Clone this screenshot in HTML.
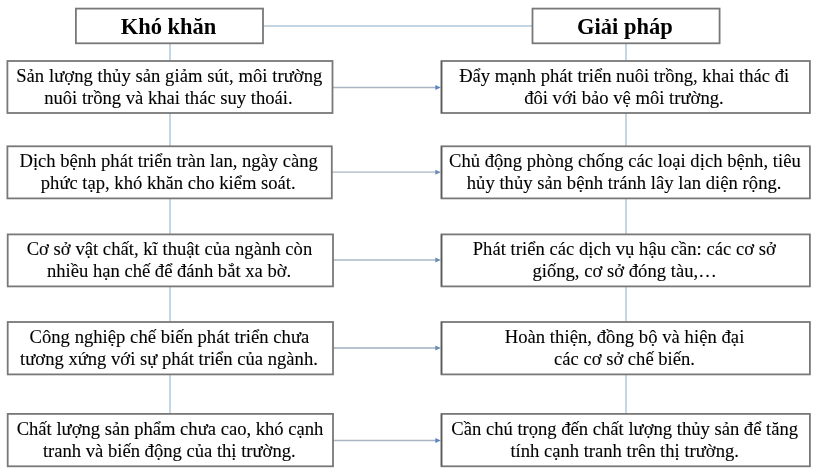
<!DOCTYPE html>
<html><head><meta charset="utf-8"><style>
html,body{margin:0;padding:0;background:#fff;width:818px;height:474px;overflow:hidden;}
svg{position:absolute;left:0;top:0;}
.tx{position:absolute;left:0;top:0;width:818px;height:474px;filter:grayscale(1) blur(0.25px);}
.t{position:absolute;text-align:center;white-space:nowrap;font-family:"Liberation Serif",serif;line-height:24px;color:#000;-webkit-text-stroke:0.1px #000;}
</style></head><body>
<svg width="818" height="474" viewBox="0 0 818 474">
<line x1="263" y1="26" x2="532.5" y2="26" stroke="#c4d5e4" stroke-width="2"/>
<line x1="170.0" y1="43" x2="170.0" y2="414" stroke="#c4d5e4" stroke-width="2"/>
<line x1="626.0" y1="43" x2="626.0" y2="414" stroke="#c4d5e4" stroke-width="2"/>
<line x1="332" y1="87.5" x2="436" y2="87.5" stroke="#aab5c4" stroke-width="1.4"/>
<path d="M435.3 85.0 L440.8 87.5 L435.3 90.0 Z" fill="#5f84c2"/>
<line x1="332" y1="172.2" x2="436" y2="172.2" stroke="#c2cad4" stroke-width="1.8"/>
<path d="M435.3 169.7 L440.8 172.2 L435.3 174.7 Z" fill="#6a8db5"/>
<line x1="332" y1="260" x2="436" y2="260" stroke="#bccad6" stroke-width="1.8"/>
<path d="M435.3 257.5 L440.8 260.0 L435.3 262.5 Z" fill="#6a8db5"/>
<line x1="332" y1="348" x2="436" y2="348" stroke="#b5c4d0" stroke-width="1.8"/>
<path d="M435.3 345.5 L440.8 348.0 L435.3 350.5 Z" fill="#6a8db5"/>
<line x1="332" y1="440.5" x2="436" y2="440.5" stroke="#aab5c4" stroke-width="1.4"/>
<path d="M435.3 438.0 L440.8 440.5 L435.3 443.0 Z" fill="#5f84c2"/>
<rect x="75.9" y="8.6" width="187.10" height="34.70" fill="#fff" stroke="#787878" stroke-width="1.8"/>
<rect x="532.5" y="8.6" width="187.10" height="34.70" fill="#fff" stroke="#787878" stroke-width="1.8"/>
<rect x="7.4" y="61.0" width="325.10" height="52.00" fill="#fff" stroke="#787878" stroke-width="1.8"/>
<rect x="441.5" y="61.0" width="368.40" height="52.00" fill="#fff" stroke="#787878" stroke-width="1.8"/>
<line x1="441.5" y1="61.0" x2="441.5" y2="113.0" stroke="#5c5c5c" stroke-width="1.4"/>
<rect x="7.4" y="146.3" width="324.40" height="52.10" fill="#fff" stroke="#787878" stroke-width="1.8"/>
<rect x="441.5" y="146.3" width="368.40" height="52.10" fill="#fff" stroke="#787878" stroke-width="1.8"/>
<line x1="441.5" y1="146.3" x2="441.5" y2="198.4" stroke="#5c5c5c" stroke-width="1.4"/>
<rect x="7.7" y="234.4" width="325.30" height="52.00" fill="#fff" stroke="#787878" stroke-width="1.8"/>
<rect x="441.5" y="234.4" width="368.40" height="52.00" fill="#fff" stroke="#787878" stroke-width="1.8"/>
<line x1="441.5" y1="234.4" x2="441.5" y2="286.4" stroke="#5c5c5c" stroke-width="1.4"/>
<rect x="7.7" y="322.0" width="325.30" height="52.40" fill="#fff" stroke="#787878" stroke-width="1.8"/>
<rect x="441.5" y="322.0" width="368.40" height="52.40" fill="#fff" stroke="#787878" stroke-width="1.8"/>
<line x1="441.5" y1="322.0" x2="441.5" y2="374.4" stroke="#5c5c5c" stroke-width="1.4"/>
<rect x="7.7" y="413.9" width="325.30" height="52.40" fill="#fff" stroke="#787878" stroke-width="1.8"/>
<rect x="441.5" y="413.9" width="368.40" height="52.40" fill="#fff" stroke="#787878" stroke-width="1.8"/>
<line x1="441.5" y1="413.9" x2="441.5" y2="466.3" stroke="#5c5c5c" stroke-width="1.4"/>
</svg>
<div class="tx">
<div class="t" style="left:-41.50px;top:14.81px;width:420px;font-size:22.5px;font-weight:bold;-webkit-text-stroke:0;">Khó khăn</div>
<div class="t" style="left:414.90px;top:14.81px;width:420px;font-size:22.5px;font-weight:bold;-webkit-text-stroke:0;">Giải pháp</div>
<div class="t" style="left:-40.72px;top:63.52px;width:420px;font-size:18.6px;letter-spacing:0.0500px;">Sản lượng thủy sản giảm sút, môi trường</div>
<div class="t" style="left:-41.60px;top:85.92px;width:420px;font-size:18.6px;">nuôi trồng và khai thác suy thoái.</div>
<div class="t" style="left:-41.30px;top:148.52px;width:420px;font-size:18.6px;">Dịch bệnh phát triển tràn lan, ngày càng</div>
<div class="t" style="left:-41.80px;top:170.72px;width:420px;font-size:18.6px;">phức tạp, khó khăn cho kiểm soát.</div>
<div class="t" style="left:-40.59px;top:236.72px;width:420px;font-size:18.6px;letter-spacing:0.0270px;">Cơ sở vật chất, kĩ thuật của ngành còn</div>
<div class="t" style="left:-40.95px;top:259.32px;width:420px;font-size:18.6px;">nhiều hạn chế để đánh bắt xa bờ.</div>
<div class="t" style="left:-40.58px;top:324.72px;width:420px;font-size:18.6px;letter-spacing:0.0343px;">Công nghiệp chế biến phát triển chưa</div>
<div class="t" style="left:-41.05px;top:347.12px;width:420px;font-size:18.6px;">tương xứng với sự phát triển của ngành.</div>
<div class="t" style="left:-40.00px;top:416.72px;width:420px;font-size:18.6px;">Chất lượng sản phẩm chưa cao, khó cạnh</div>
<div class="t" style="left:-40.70px;top:438.52px;width:420px;font-size:18.6px;">tranh và biến động của thị trường.</div>
<div class="t" style="left:414.15px;top:63.52px;width:420px;font-size:18.6px;">Đẩy mạnh phát triển nuôi trồng, khai thác đi</div>
<div class="t" style="left:413.96px;top:85.92px;width:420px;font-size:18.6px;letter-spacing:0.0200px;">đôi với bảo vệ môi trường.</div>
<div class="t" style="left:414.86px;top:148.52px;width:420px;font-size:18.6px;letter-spacing:0.0250px;">Chủ động phòng chống các loại dịch bệnh, tiêu</div>
<div class="t" style="left:414.12px;top:170.72px;width:420px;font-size:18.6px;letter-spacing:0.0317px;">hủy thủy sản bệnh tránh lây lan diện rộng.</div>
<div class="t" style="left:414.31px;top:236.72px;width:420px;font-size:18.6px;letter-spacing:0.0275px;">Phát triển các dịch vụ hậu cần: các cơ sở</div>
<div class="t" style="left:414.61px;top:259.32px;width:420px;font-size:18.6px;letter-spacing:0.0227px;">giống, cơ sở đóng tàu,…</div>
<div class="t" style="left:414.53px;top:324.72px;width:420px;font-size:18.6px;letter-spacing:0.0533px;">Hoàn thiện, đồng bộ và hiện đại</div>
<div class="t" style="left:414.50px;top:347.12px;width:420px;font-size:18.6px;">các cơ sở chế biến.</div>
<div class="t" style="left:414.70px;top:416.72px;width:420px;font-size:18.6px;">Cần chú trọng đến chất lượng thủy sản để tăng</div>
<div class="t" style="left:414.65px;top:438.52px;width:420px;font-size:18.6px;">tính cạnh tranh trên thị trường.</div>
</div>
</body></html>
